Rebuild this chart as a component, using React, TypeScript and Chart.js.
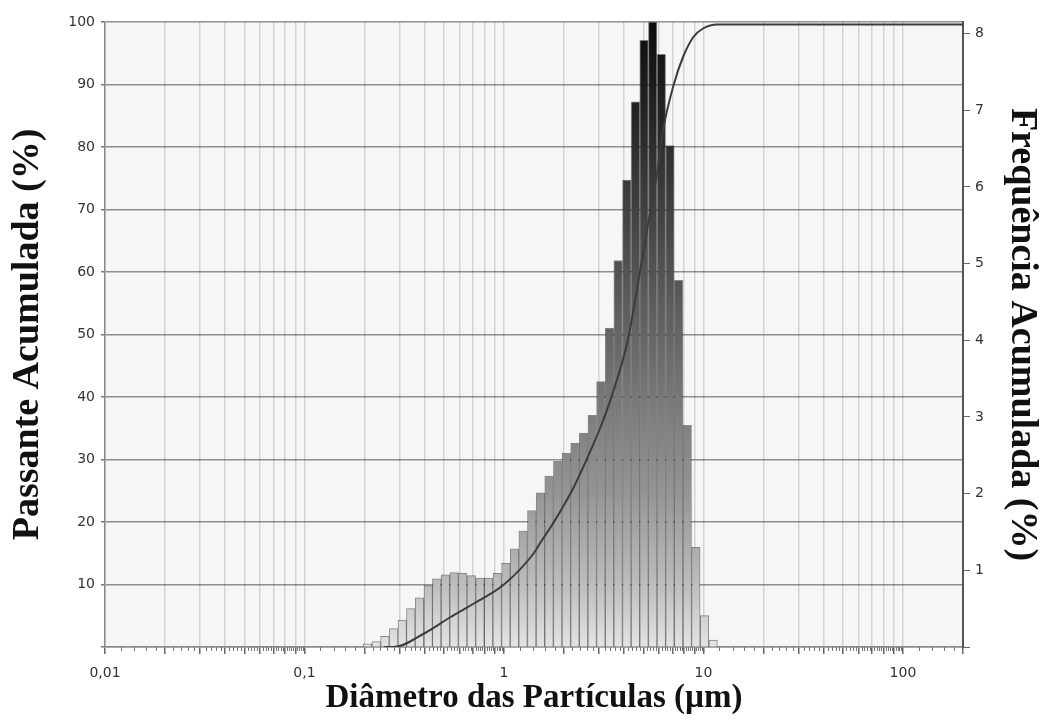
import { useEffect, useRef } from 'react';
import { Chart, registerables } from 'chart.js';

Chart.register(...registerables);

// Size classes: bin centres in µm (geometric spacing)
const binDiameters = [
  0.207, 0.229, 0.253, 0.280, 0.309, 0.341, 0.377, 0.417, 0.460, 0.509,
  0.562, 0.621, 0.686, 0.758, 0.837, 0.925, 1.022, 1.129, 1.247, 1.378,
  1.523, 1.682, 1.859, 2.054, 2.269, 2.507, 2.769, 3.060, 3.381, 3.735,
  4.127, 4.559, 5.037, 5.565, 6.149, 6.794, 7.506, 8.293, 9.162, 10.12,
  11.18,
];

// Frequency per class (%)
const binFrequency = [
  0.04, 0.07, 0.14, 0.24, 0.35, 0.50, 0.64, 0.80, 0.89, 0.94,
  0.97, 0.96, 0.93, 0.90, 0.90, 0.96, 1.09, 1.28, 1.51, 1.78,
  2.01, 2.23, 2.42, 2.53, 2.66, 2.79, 3.02, 3.46, 4.16, 5.04,
  6.09, 7.11, 7.91, 8.15, 7.73, 6.54, 4.78, 2.89, 1.30, 0.41,
  0.09,
];

// Cumulative passing curve
const cumDiameters = [
  0.25, 0.28, 0.40, 0.54, 0.71, 1.0, 1.41, 1.53, 1.78,
  2.24, 2.63, 3.05, 3.43, 4.17, 4.8, 5.4, 5.8, 6.3, 7.1,
  7.9, 8.9, 10.0, 11.7, 200,
];
const cumPassing = [
  0, 0, 2.2, 4.8, 7.0, 10.0, 15.0, 16.8, 20.0,
  25.6, 30.4, 35.2, 39.7, 49.0, 60.0, 69.5, 75.0, 83.0, 90.0,
  94.4, 97.6, 99.0, 99.6, 99.6,
];

// Axis ranges and labels
const xMinDiameter = 0.01;
const xMaxDiameter = 200;
const decadeValues = [0.01, 0.1, 1, 10, 100];
const decadeLabels = ['0,01', '0,1', '1', '10', '100'];
const leftMax = 100;
const rightMax = 8.15;

const lg = (v: number) => Math.log10(v);

// log grid positions: 1..9 × 10^e
function majorPositions(): number[] {
  const out: number[] = [];
  for (let e = -2; e <= 2; e++) {
    for (let m = 1; m <= 9; m++) {
      const v = m * Math.pow(10, e);
      if (v <= xMaxDiameter * 1.0001) out.push(lg(v));
    }
  }
  return out;
}

const tickFont = { family: 'DejaVu Sans', size: 14 };
const sideTitleFont = { family: 'Liberation Serif', size: 38, weight: 'bold' as const };
const bottomTitleFont = { family: 'Liberation Serif', size: 33, weight: 'bold' as const };

const plotBackground = {
  id: 'plotBackground',
  beforeDraw(chart: any) {
    const { ctx, chartArea: a, width, height } = chart;
    ctx.save();
    ctx.fillStyle = '#ffffff';
    ctx.fillRect(0, 0, width, height);
    ctx.fillStyle = '#f6f6f6';
    ctx.fillRect(a.left, a.top, a.right - a.left, a.bottom - a.top);
    ctx.restore();
  },
};

// short ticks between the grid positions on the diameter axis
const minorTicks = {
  id: 'minorTicks',
  afterDraw(chart: any) {
    const s = chart.scales.x;
    const ctx = chart.ctx;
    const y0 = chart.chartArea.bottom;
    ctx.save();
    ctx.strokeStyle = '#777';
    ctx.lineWidth = 1;
    ctx.beginPath();
    for (let e = -2; e <= 2; e++) {
      for (let k = 1; k < 45; k++) {
        const m = 1 + k * 0.2;
        if (m >= 9.99) break;
        if (Math.abs(m - Math.round(m)) < 1e-6) continue;
        const v = m * Math.pow(10, e);
        if (v > xMaxDiameter) break;
        const x = Math.round(s.getPixelForValue(lg(v))) + 0.5;
        ctx.moveTo(x, y0);
        ctx.lineTo(x, y0 + 4);
      }
    }
    ctx.stroke();
    ctx.restore();
  },
};

export default function App() {
  const ref = useRef<HTMLCanvasElement>(null);

  useEffect(() => {
    const canvas = ref.current;
    if (!canvas) return;

    let grad: CanvasGradient | null = null;
    let gradKey = '';
    const barFill = (c: any) => {
      const chart = c.chart;
      const a = chart.chartArea;
      if (!a) return '#888888';
      const key = a.top + ':' + a.bottom;
      if (!grad || key !== gradKey) {
        const g = chart.ctx.createLinearGradient(0, a.top, 0, a.bottom);
        g.addColorStop(0, '#0c0c0c');
        g.addColorStop(0.15, '#252525');
        g.addColorStop(0.35, '#4a4a4a');
        g.addColorStop(0.55, '#6e6e6e');
        g.addColorStop(0.75, '#949494');
        g.addColorStop(0.9, '#bdbdbd');
        g.addColorStop(1, '#e4e4e4');
        grad = g;
        gradKey = key;
      }
      return grad;
    };

    const chart = new Chart(canvas, {
      type: 'bar',
      data: {
        datasets: [
          {
            type: 'line',
            data: cumDiameters.map((d, i) => ({ x: lg(d), y: cumPassing[i] })),
            yAxisID: 'y',
            borderColor: '#3c3c3c',
            borderWidth: 2,
            pointRadius: 0,
            cubicInterpolationMode: 'monotone',
            order: 0,
          } as any,
          {
            type: 'bar',
            data: binDiameters.map((d, i) => ({ x: lg(d), y: binFrequency[i] })),
            yAxisID: 'y2',
            backgroundColor: barFill,
            borderColor: 'rgba(0,0,0,0.45)',
            borderWidth: 1,
            barPercentage: 1,
            categoryPercentage: 1,
            order: 1,
          } as any,
        ],
      },
      options: {
        animation: false,
        responsive: false,
        devicePixelRatio: 1,
        layout: { padding: { top: 22, left: 0, right: 0, bottom: 0 } },
        plugins: { legend: { display: false }, tooltip: { enabled: false } },
        scales: {
          x: {
            type: 'linear',
            min: lg(xMinDiameter),
            max: lg(xMaxDiameter),
            offset: false,
            afterBuildTicks: (s: any) => {
              s.ticks = majorPositions().map((v) => ({ value: v }));
            },
            afterFit: (s: any) => {
              s.height = 75;
            },
            grid: {
              color: '#d3d3d3',
              lineWidth: 1.5,
              tickColor: '#666',
              tickLength: 7,
              offset: false,
            },
            border: { color: '#8a8a8a', width: 1.5 },
            ticks: {
              autoSkip: false,
              maxRotation: 0,
              padding: 11,
              color: '#333',
              font: tickFont,
              callback: (v: any) => {
                const i = decadeValues.findIndex((d) => Math.abs(lg(d) - Number(v)) < 1e-6);
                return i >= 0 ? decadeLabels[i] : '';
              },
            },
            title: {
              display: true,
              text: 'Diâmetro das Partículas (µm)',
              font: bottomTitleFont,
              color: '#111',
              padding: { top: 0, bottom: 4 },
            },
          },
          y: {
            position: 'left',
            min: 0,
            max: leftMax,
            z: 1,
            afterFit: (s: any) => {
              s.width = 105;
            },
            ticks: {
              stepSize: 10,
              padding: 6,
              color: '#333',
              font: tickFont,
              callback: (v: any) => (Number(v) === 0 ? '' : String(v)),
            },
            grid: {
              color: 'rgba(40,40,40,0.5)',
              lineWidth: 1.5,
              tickLength: 4,
              tickColor: '#777',
            },
            border: { color: '#8a8a8a', width: 1.5 },
            title: {
              display: true,
              text: 'Passante Acumulada (%)',
              font: sideTitleFont,
              color: '#111',
              padding: { top: 5, bottom: 0 },
            },
          },
          y2: {
            position: 'right',
            min: 0,
            max: rightMax,
            afterFit: (s: any) => {
              s.width = 84;
            },
            ticks: {
              stepSize: 1,
              includeBounds: false,
              padding: 5,
              color: '#333',
              font: tickFont,
              callback: (v: any) => {
                const n = Number(v);
                return n === 0 || n !== Math.round(n) ? '' : String(n);
              },
            },
            grid: { drawOnChartArea: false, tickLength: 7, tickColor: '#666' },
            border: { color: '#555', width: 2 },
            title: {
              display: true,
              text: 'Frequência Acumulada (%)',
              font: sideTitleFont,
              color: '#111',
              padding: { top: 2, bottom: 0 },
            },
          },
        },
      } as any,
      plugins: [plotBackground, minorTicks],
    });

    return () => chart.destroy();
  }, []);

  return (
    <div style={{ position: 'absolute', left: 0, top: 0, width: 1047, height: 722, background: '#fff' }}>
      <canvas ref={ref} width={1047} height={722} style={{ display: 'block' }} />
    </div>
  );
}
